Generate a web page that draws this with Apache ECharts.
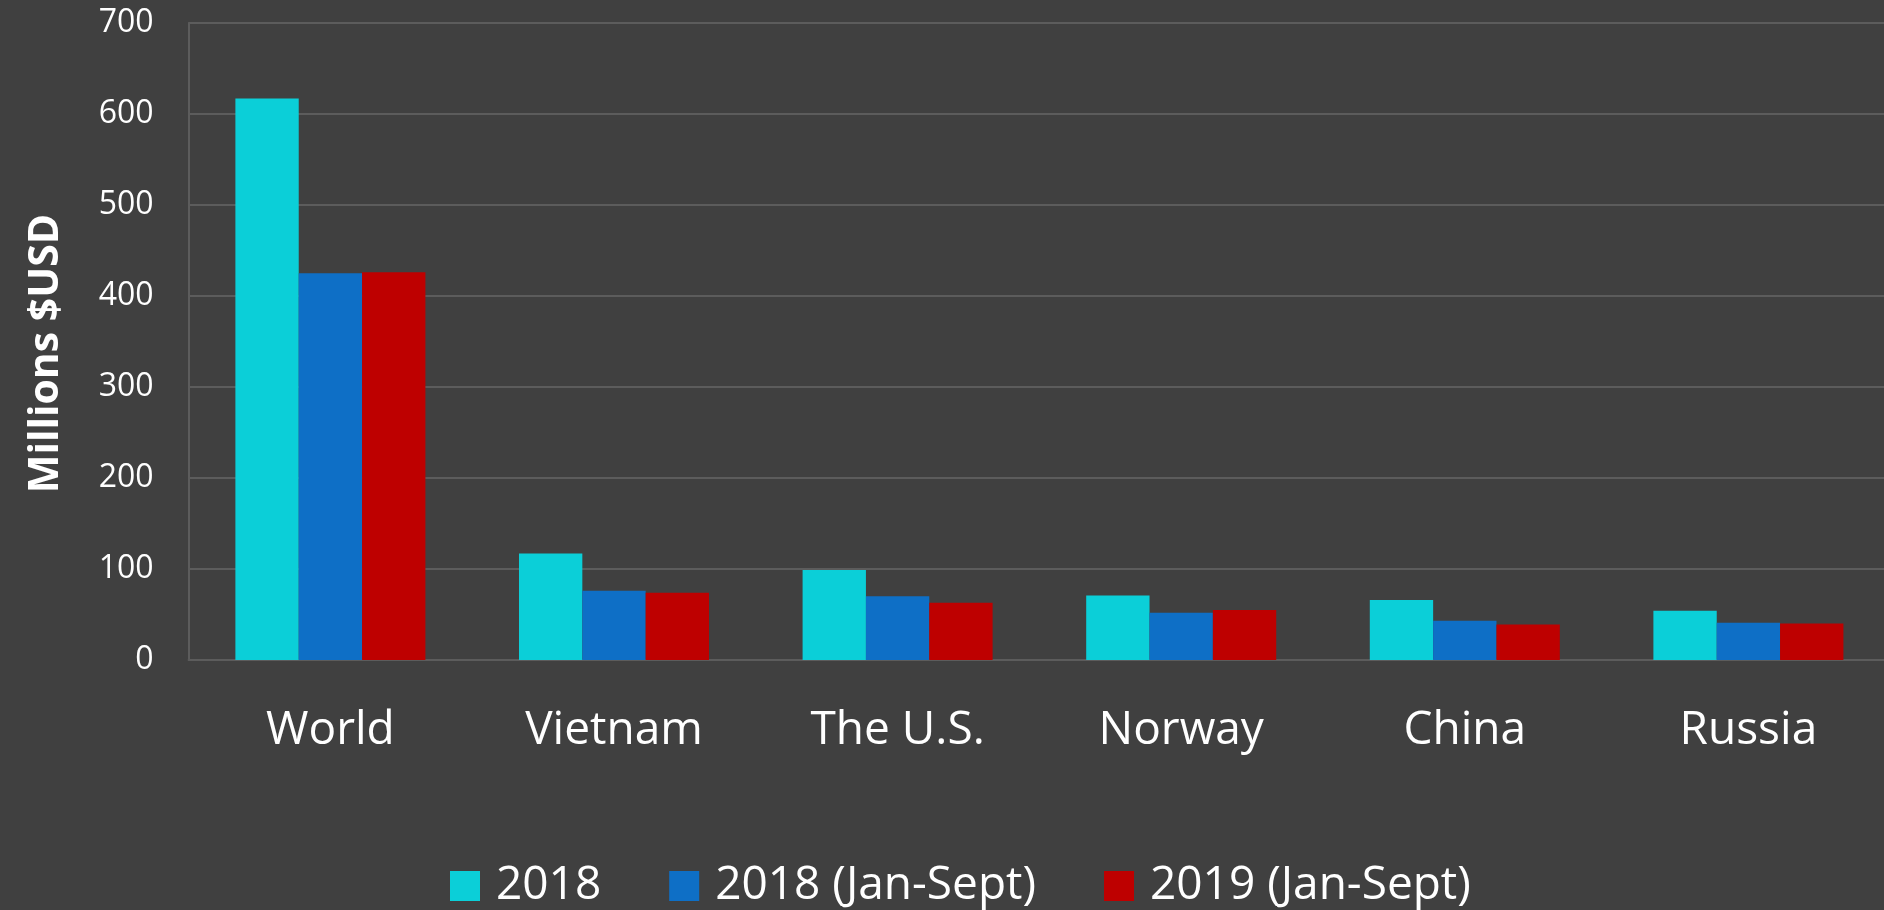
<!DOCTYPE html>
<html>
<head>
<meta charset="utf-8">
<title>Exports</title>
<script src="https://cdn.jsdelivr.net/npm/echarts@6/dist/echarts.min.js"></script>
<style>
  html, body { margin: 0; padding: 0; background: #404040; }
  #chart { width: 1884px; height: 910px; }
</style>
</head>
<body>
<div id="chart"></div>
<script>
const categories = ['World', 'Vietnam', 'The U.S.', 'Norway', 'China', 'Russia']
const seriesNames = ['2018', '2018 (Jan-Sept)', '2019 (Jan-Sept)']
const values2018 = [617, 117, 99, 71, 66, 54]
const values2018JanSept = [425, 76, 70, 52, 43, 41]
const values2019JanSept = [426, 74, 63, 55, 39, 40]

const colors = ['#0BCFD8', '#0E6FC6', '#BE0000']
const gridColor = '#5c5c5c'
const font = '"Open Sans", sans-serif'

const chart = echarts.init(document.getElementById('chart'))
chart.setOption({
  backgroundColor: '#404040',
  color: colors,
  animation: false,
  textStyle: { fontFamily: font, color: '#ffffff' },
  grid: {
    left: 188.6,
    top: 23,
    width: 1701.6, // plot runs a little past the right edge
    bottom: 250,
    outerBoundsMode: 'none'
  },
  legend: {
    data: seriesNames,
    left: 450,
    top: 863,
    padding: 0,
    itemWidth: 30,
    itemHeight: 30,
    itemGap: 68,
    icon: 'rect',
    textStyle: {
      color: '#ffffff',
      fontSize: 46,
      fontFamily: font,
      padding: [0, 0, 0, 11]
    }
  },
  xAxis: {
    type: 'category',
    data: categories,
    axisTick: { show: false },
    axisLine: { show: true, lineStyle: { color: gridColor, width: 2 } },
    axisLabel: {
      color: '#ffffff',
      fontSize: 46,
      fontFamily: font,
      margin: 48
    }
  },
  yAxis: {
    type: 'value',
    min: 0,
    max: 700,
    interval: 100,
    name: 'Millions $USD',
    nameLocation: 'middle',
    nameGap: 122,
    nameTextStyle: {
      color: '#ffffff',
      fontSize: 41,
      fontWeight: 'bold',
      fontFamily: font,
      padding: [0, 24, 0, 0]
    },
    axisLine: { show: true, lineStyle: { color: gridColor, width: 2 } },
    axisTick: { show: false },
    splitLine: { lineStyle: { color: gridColor, width: 2 } },
    axisLabel: {
      color: '#ffffff',
      fontSize: 32,
      fontFamily: font,
      margin: 35
    }
  },
  series: [
    {
      name: seriesNames[0],
      type: 'bar',
      barGap: 0,
      barCategoryGap: '33%',
      data: values2018
    },
    {
      name: seriesNames[1],
      type: 'bar',
      barGap: 0,
      barCategoryGap: '33%',
      data: values2018JanSept
    },
    {
      name: seriesNames[2],
      type: 'bar',
      barGap: 0,
      barCategoryGap: '33%',
      data: values2019JanSept
    }
  ]
})
</script>
</body>
</html>
